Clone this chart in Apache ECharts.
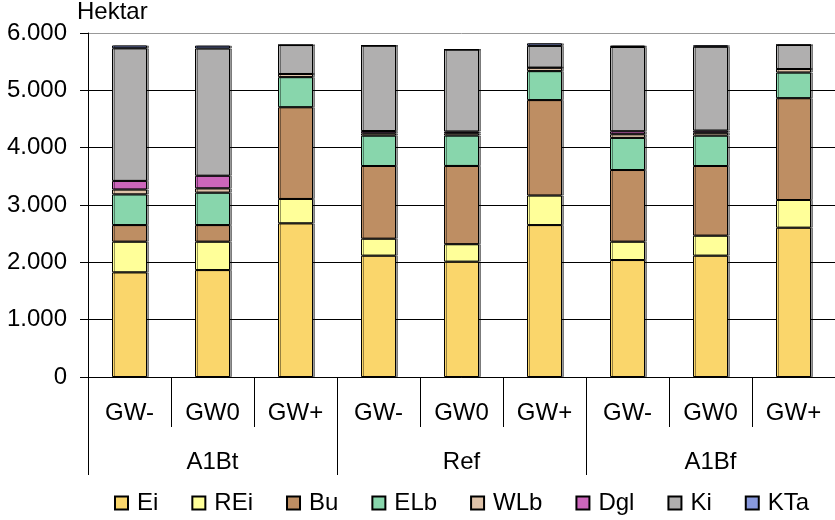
<!DOCTYPE html>
<html>
  <head>
    <meta charset="utf-8" />
    <title>Hektar</title>
    <script src="https://cdn.jsdelivr.net/npm/echarts@6/dist/echarts.min.js"></script>
  </head>
  <body style="margin: 0">
    <div id="main" style="width: 835px; height: 520px"></div>

    <script>
      // 数据
      var categories = ["GW-", "GW0", "GW+", "GW-", "GW0", "GW+", "GW-", "GW0", "GW+"];
      var groups = ["A1Bt", "Ref", "A1Bf"];
      var ei = [1825, 1865, 2680, 2116, 2011, 2650, 2040, 2116, 2604];
      var rei = [535, 495, 425, 296, 305, 515, 320, 349, 483];
      var bu = [290, 290, 1600, 1268, 1365, 1665, 1250, 1215, 1776];
      var elb = [535, 565, 525, 530, 530, 505, 560, 530, 447];
      var wlb = [85, 75, 55, 40, 40, 60, 64, 50, 62];
      var dgl = [150, 220, 0, 40, 30, 0, 52, 37, 0];
      var ki = [2313, 2220, 505, 1490, 1430, 380, 1470, 1463, 420];
      var kta = [50, 50, 0, 0, 0, 45, 25, 25, 0];

      var names = ["Ei", "REi", "Bu", "ELb", "WLb", "Dgl", "Ki", "KTa"];
      var values = [ei, rei, bu, elb, wlb, dgl, ki, kta];
      var colors = ["#fad66b", "#ffff99", "#be8e63", "#88d6ac", "#dfc3a9", "#cc66bb", "#b0afaf", "#8899dd"];

      var font = "Liberation Sans, Arial, sans-serif";

      var myChart = echarts.init(document.getElementById("main"));

      var series = names.map(function (n, i) {
        return {
          name: n,
          type: "bar",
          stack: "all",
          barWidth: 35,
          data: values[i],
          itemStyle: {
            color: colors[i],
            borderColor: "#000",
            borderWidth: 1,
            shadowColor: "rgba(0,0,0,0.4)",
            shadowOffsetX: 2,
            shadowBlur: 0,
          },
        };
      });

      var option = {
        animation: false,
        textStyle: { fontFamily: font, color: "#000" },
        title: {
          text: "Hektar",
          left: 77,
          top: 0,
          padding: 0,
          textStyle: { fontSize: 24, fontWeight: "normal", color: "#000", fontFamily: font },
        },
        grid: { left: 88, top: 33, width: 753, height: 344 },
        legend: {
          data: names,
          left: 114,
          top: 491,
          padding: 0,
          icon: "rect",
          itemWidth: 13,
          itemHeight: 13,
          itemGap: 33,
          itemStyle: { shadowColor: "transparent", shadowOffsetX: 0 },
          textStyle: { fontSize: 24, color: "#000", fontFamily: font, padding: [0, 0, 0, 4] },
        },
        xAxis: [
          {
            type: "category",
            data: categories,
            position: "bottom",
            axisLine: { lineStyle: { color: "#000" } },
            axisTick: { show: true, length: 50, interval: 0, lineStyle: { color: "#000" } },
            axisLabel: { margin: 24, fontSize: 24, color: "#000", interval: 0 },
          },
          {
            type: "category",
            data: groups,
            position: "bottom",
            axisLine: { show: false },
            axisTick: { show: true, length: 98, interval: 0, lineStyle: { color: "#000" } },
            axisLabel: { margin: 73, fontSize: 24, color: "#000" },
          },
        ],
        yAxis: {
          type: "value",
          min: 0,
          max: 6000,
          interval: 1000,
          axisLine: { show: true, lineStyle: { color: "#000" } },
          axisTick: { show: true, length: 8, lineStyle: { color: "#000" } },
          axisLabel: {
            margin: 21,
            fontSize: 24,
            color: "#000",
            formatter: function (v) {
              return v === 0 ? "0" : (v / 1000).toFixed(3);
            },
          },
          splitLine: {
            lineStyle: {
              color: ["#000", "#000", "#000", "#000", "#000", "#000", "#999"],
            },
          },
        },
        series: series,
      };

      myChart.setOption(option);
    </script>
  </body>
</html>
